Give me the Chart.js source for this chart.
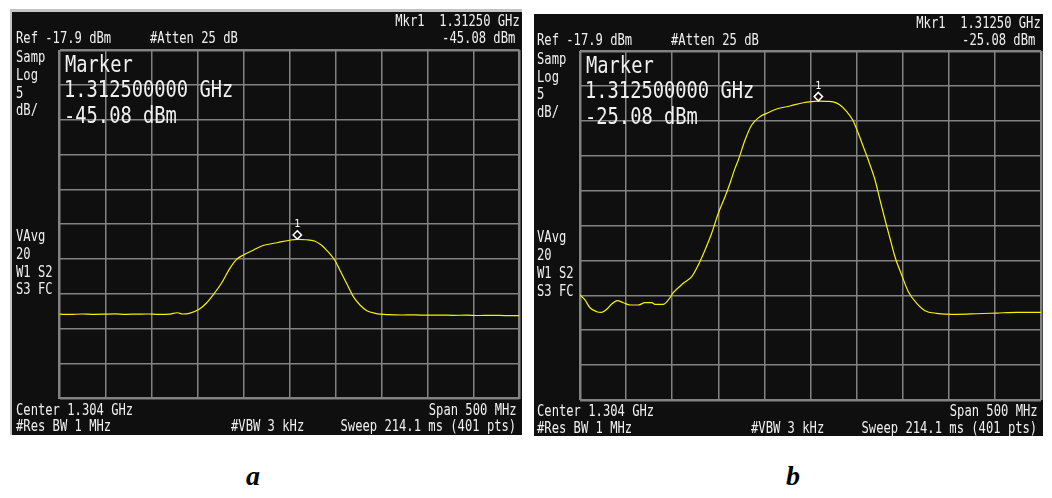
<!DOCTYPE html>
<html><head><meta charset="utf-8">
<script src="https://cdn.jsdelivr.net/npm/chart.js@4.4.1/dist/chart.umd.min.js"></script>
<style>
html,body{margin:0;padding:0;background:#fff;}
#page{position:relative;width:1052px;height:498px;overflow:hidden;background:#fff;}
canvas{position:absolute;}
.t{position:absolute;white-space:pre;color:#f0f0f0;font-family:"DejaVu Sans Mono",monospace;line-height:1;}
.cap{position:absolute;width:100px;text-align:center;font-family:"Liberation Serif","Times New Roman",serif;font-style:italic;font-weight:bold;font-size:28px;line-height:1;color:#000;}
</style></head>
<body><div id="page">
<div style="position:absolute;left:10px;top:9px;width:512px;height:426px;background:#c4c4c4"></div>
<canvas id="chartA" width="510" height="423" style="left:12px;top:12px;background:#0f0f0f"></canvas>
<canvas id="chartB" width="509" height="422" style="left:534px;top:14px;background:#0f0f0f"></canvas>
</div>
<script>
// ---- data ----
const freqTicks = [1054,1104,1154,1204,1254,1304,1354,1404,1454,1504,1554]; // MHz
const levelTicks = [-67.9,-62.9,-57.9,-52.9,-47.9,-42.9,-37.9,-32.9,-27.9,-22.9,-17.9]; // dBm
const freqA = [1054,1066,1078,1090,1102,1114,1126,1138,1150,1162,1174,1182,1188,1195.1,1206.2,1213.5,1220.9,1230,1239.2,1246.5,1253.9,1264.9,1276,1290.6,1305.3,1312.5,1322,1331.1,1338.5,1345.8,1353.1,1358.7,1366,1373.4,1380.6,1388,1397.3,1412,1426,1440,1454,1468,1482,1496,1510,1524,1538,1554];
const levelA = [-55.8,-55.84,-55.78,-55.82,-55.8,-55.76,-55.82,-55.8,-55.78,-55.83,-55.79,-55.6,-55.78,-55.68,-55.06,-54.24,-53.05,-51.37,-49.22,-47.93,-47.31,-46.59,-45.92,-45.55,-45.16,-45.08,-45.12,-45.30,-45.88,-46.84,-48.03,-49.46,-51.37,-53.29,-54.49,-55.30,-55.68,-55.88,-55.92,-55.9,-55.95,-55.93,-55.97,-55.94,-55.99,-55.96,-56.0,-56.02];
const freqB = [1054,1059.4,1064.8,1072.1,1077.5,1083,1088.4,1094.5,1101,1108.2,1117.2,1124.5,1131.8,1135.3,1144.3,1149.8,1155.2,1166,1175.2,1182.3,1189.6,1196.8,1204,1211.3,1216.7,1222.1,1225.7,1233,1240.2,1249.2,1256.5,1267.3,1281.7,1296.2,1305,1312.5,1321.6,1328.7,1336,1343.3,1349.8,1355.8,1361.3,1366.7,1374,1379.4,1384.9,1390.2,1395.6,1402.9,1410.1,1419.2,1428.2,1440.9,1462.6,1484.3,1506,1527.6,1554];
const levelB = [-52.86,-53.57,-54.68,-55.25,-55.34,-54.91,-54.15,-53.67,-53.96,-54.29,-54.29,-53.96,-53.96,-54.19,-54.19,-53.57,-52.53,-51.18,-50.24,-48.56,-46.41,-44.02,-41.15,-38.77,-36.84,-34.71,-33.52,-30.65,-28.50,-27.31,-26.83,-26.21,-25.78,-25.31,-25.15,-25.08,-25.12,-25.2,-25.64,-26.6,-27.79,-29.69,-31.61,-33.52,-36.38,-39.25,-42.11,-44.73,-47.37,-49.99,-52.38,-54.05,-55.11,-55.48,-55.62,-55.54,-55.44,-55.34,-55.34];
const markerFreq = [1312.5, 1312.5];
const markerLevel = [-45.08, -25.08];
const markerFreqText = ["1.31250 GHz", "1.312500000 GHz"];
const markerLevelText = ["-45.08 dBm", "-25.08 dBm"];
const headerLabels = ["Ref -17.9 dBm", "#Atten 25 dB"];
const sideLabelsTop = ["Samp", "Log", "5", "dB/"];
const sideLabelsMid = ["VAvg", "20", "W1 S2", "S3 FC"];
const footerLabels = ["Center 1.304 GHz", "Span 500 MHz", "#Res BW 1 MHz", "#VBW 3 kHz", "Sweep 214.1 ms (401 pts)"];
const panelCaptions = ["a", "b"];

// ---- chart ----
const markerPlugin = {
  id: 'mk',
  afterDatasetsDraw(chart, args, opts) {
    const {ctx, scales} = chart;
    const px = scales.x.getPixelForValue(opts.freq);
    const py = scales.y.getPixelForValue(opts.level);
    const h = 4.2, cy = py - h - 0.3;
    ctx.save();
    ctx.beginPath();
    ctx.moveTo(px, cy - h); ctx.lineTo(px + h, cy); ctx.lineTo(px, cy + h); ctx.lineTo(px - h, cy); ctx.closePath();
    ctx.fillStyle = '#0f0f0f'; ctx.fill();
    ctx.strokeStyle = '#ffffff'; ctx.lineWidth = 1.5; ctx.stroke();
    ctx.fillStyle = '#ffffff'; ctx.font = '10px "DejaVu Sans Mono"';
    ctx.textAlign = 'center'; ctx.textBaseline = 'alphabetic';
    ctx.fillText('1', px, cy - h - 3.5);
    ctx.restore();
  }
};

function gridWidth(c) {
  const n = c.scale.ticks.length;
  return (c.index === 0 || c.index === n - 1) ? 2.5 : 1.5;
}

function makeChart(id, freqs, levels, idx, pad) {
  new Chart(document.getElementById(id), {
    type: 'line',
    data: { datasets: [{
      data: freqs.map((f, i) => ({x: f, y: levels[i]})),
      borderColor: '#f4f400', borderWidth: 1.2, pointRadius: 0,
      cubicInterpolationMode: 'monotone', fill: false
    }]},
    options: {
      responsive: false, animation: false, devicePixelRatio: 1,
      layout: { padding: pad },
      plugins: { legend: {display: false}, tooltip: {enabled: false},
                 mk: { freq: markerFreq[idx], level: markerLevel[idx] } },
      scales: {
        x: { type: 'linear', min: freqTicks[0], max: freqTicks[freqTicks.length - 1],
             afterBuildTicks: ax => { ax.ticks = freqTicks.map(v => ({value: v})); },
             afterFit: s => { s.height = 0; },
             ticks: {display: false}, border: {display: false},
             grid: {color: '#828282', lineWidth: gridWidth, drawTicks: false} },
        y: { type: 'linear', min: levelTicks[0], max: levelTicks[levelTicks.length - 1],
             afterBuildTicks: ax => { ax.ticks = levelTicks.map(v => ({value: v})); },
             afterFit: s => { s.width = 0; },
             ticks: {display: false}, border: {display: false},
             grid: {color: '#828282', lineWidth: gridWidth, drawTicks: false} }
      }
    },
    plugins: [markerPlugin]
  });
}
makeChart('chartA', freqA, levelA, 0, {left: 47.5, right: 2.5, top: 38, bottom: 36.5});
makeChart('chartB', freqB, levelB, 1, {left: 46, right: 2, top: 37, bottom: 36});

// ---- text ----
const page = document.getElementById('page');
function addText(str, x, baseline, size, scale, align) {
  const d = document.createElement('div');
  d.className = 't';
  d.textContent = str;
  d.style.fontSize = size + 'px';
  d.style.top = (baseline - 0.846 * size) + 'px';
  if (align === 'right') {
    d.style.right = (1052 - x) + 'px';
    d.style.transformOrigin = 'right top';
  } else {
    d.style.left = x + 'px';
    d.style.transformOrigin = 'left top';
  }
  d.style.transform = 'scaleX(' + scale + ')';
  page.appendChild(d);
}
const S = 16, SX = 0.76, L = 23, LX = 0.815;
[[0, 0], [520.5, 1.2]].forEach(([dx, dy], i) => {
  addText('Mkr1  ' + markerFreqText[0], 520 + dx, 27 + dy, S, SX, 'right');
  addText(headerLabels[0], 16 + dx, 44 + dy, S, SX);
  addText(headerLabels[1], 150 + dx, 44 + dy, S, SX);
  addText(markerLevelText[i], 515 + dx, 44 + dy, S, SX, 'right');
  [63, 81, 98.5, 116].forEach((b, k) => addText(sideLabelsTop[k], 16 + dx, b + dy, S, SX));
  [241.5, 259.5, 277.3, 295].forEach((b, k) => addText(sideLabelsMid[k], 16 + dx, b + dy, S, SX));
  addText('Marker', 65 + dx, 72 + dy, L, LX);
  addText(markerFreqText[1], 64 + dx, 97.5 + dy, L, LX);
  addText(markerLevelText[i], 64 + dx, 123 + dy, L, LX);
  addText(footerLabels[0], 16 + dx, 415.5 + dy, S, SX);
  addText(footerLabels[1], 517 + dx, 415.5 + dy, S, SX, 'right');
  addText(footerLabels[2], 16 + dx, 432 + dy, S, SX);
  addText(footerLabels[3], 230.5 + dx, 432 + dy, S, SX);
  addText(footerLabels[4], 516.5 + dx, 432 + dy, S, SX, 'right');
});
[253, 793].forEach((cx, i) => {
  const d = document.createElement('div');
  d.className = 'cap';
  d.textContent = panelCaptions[i];
  d.style.left = (cx - 50) + 'px';
  d.style.top = (485 - 0.8375 * 28) + 'px';
  page.appendChild(d);
});
</script>
</body></html>
